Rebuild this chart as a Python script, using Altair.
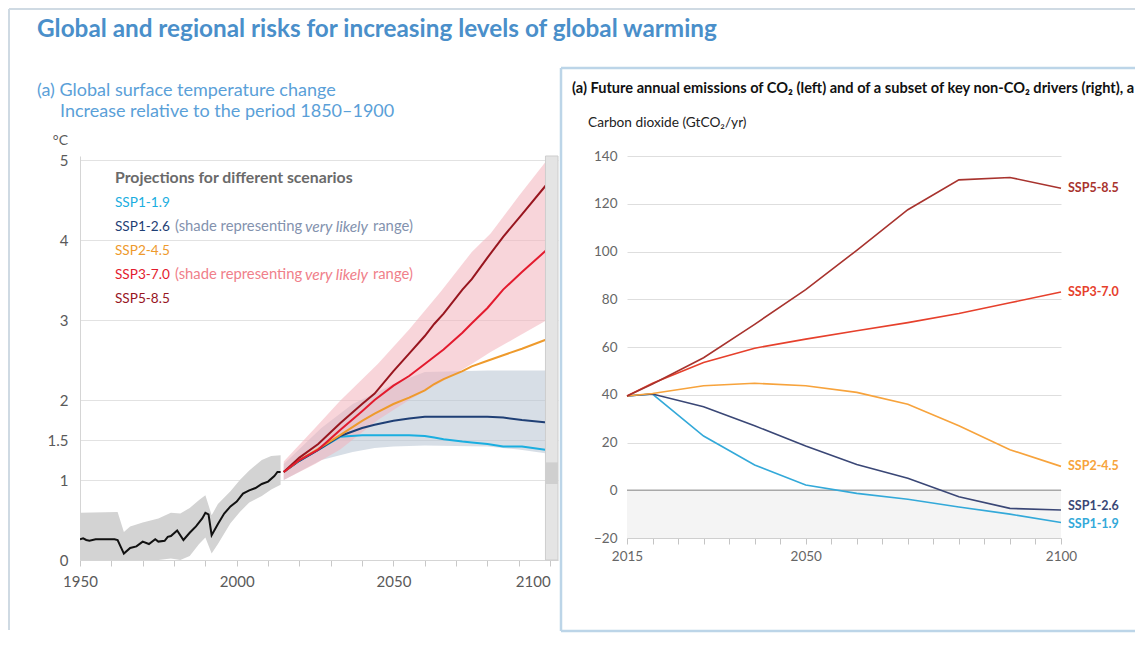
import altair as alt
import pandas as pd

FONT = "Lato"

# ---------------- left panel: global surface temperature change ----------------
hist_years = [1950, 1951, 1952, 1953, 1955, 1961, 1962, 1964, 1966, 1968, 1970, 1972, 1974, 1975,
              1977, 1978, 1979, 1981, 1983, 1985, 1987, 1989, 1990, 1991, 1992, 1994, 1996, 1998,
              2000, 2002, 2004, 2006, 2008, 2010, 2012, 2013, 2014]
hist_temp = [0.26, 0.27, 0.25, 0.24, 0.26, 0.26, 0.25, 0.08, 0.15, 0.17, 0.23, 0.20, 0.26, 0.23,
             0.24, 0.29, 0.30, 0.37, 0.25, 0.34, 0.42, 0.52, 0.59, 0.57, 0.31, 0.45, 0.58, 0.67,
             0.73, 0.83, 0.87, 0.90, 0.95, 0.98, 1.05, 1.10, 1.10]

hband_years = [1950, 1962, 1964, 1966, 1970, 1975, 1979, 1982, 1985, 1988, 1990, 1992, 1994,
               1998, 2001, 2004, 2008, 2011, 2014]
hband_lo = [0.0, 0.0, 0.0, 0.0, 0.0, 0.0, 0.02, 0.0, 0.05, 0.20, 0.28, 0.08, 0.20, 0.46, 0.60,
            0.72, 0.80, 0.88, 0.94]
hband_hi = [0.59, 0.60, 0.35, 0.42, 0.47, 0.52, 0.59, 0.58, 0.65, 0.75, 0.81, 0.56, 0.70, 0.86,
            1.00, 1.12, 1.25, 1.30, 1.31]

proj_years = [2015, 2020, 2026, 2033, 2040, 2044, 2050, 2055, 2060, 2063, 2066, 2072, 2075,
              2080, 2085, 2091, 2099]
ssp119_t = [1.10, 1.24, 1.375, 1.54, 1.56, 1.56, 1.56, 1.56, 1.55, 1.53, 1.51, 1.48, 1.47, 1.45,
            1.42, 1.42, 1.375]
ssp126_t = [1.10, 1.24, 1.375, 1.55, 1.65, 1.69, 1.74, 1.77, 1.79, 1.79, 1.79, 1.79, 1.79, 1.79,
            1.78, 1.75, 1.72]
ssp245_t = [1.10, 1.25, 1.39, 1.56, 1.74, 1.83, 1.95, 2.03, 2.12, 2.20, 2.26, 2.36, 2.42, 2.49,
            2.56, 2.64, 2.76]
ssp370_t = [1.10, 1.25, 1.38, 1.625, 1.86, 2.00, 2.18, 2.30, 2.45, 2.54, 2.63, 2.84, 2.96, 3.15,
            3.38, 3.60, 3.88]
ssp585_t = [1.10, 1.28, 1.45, 1.71, 1.95, 2.08, 2.36, 2.58, 2.80, 2.95, 3.08, 3.38, 3.51, 3.78,
            4.04, 4.32, 4.70]

pink_years = [2015, 2025, 2033, 2045, 2055, 2065, 2075, 2081, 2090, 2099]
pink_lo = [1.00, 1.20, 1.38, 1.75, 2.00, 2.22, 2.45, 2.60, 2.80, 3.00]
pink_hi = [1.23, 1.65, 1.99, 2.45, 2.88, 3.35, 3.85, 4.08, 4.55, 5.00]

grey_years = [2015, 2027, 2037, 2044, 2050, 2060, 2080, 2090, 2099]
grey_lo = [1.00, 1.25, 1.35, 1.40, 1.42, 1.43, 1.42, 1.38, 1.33]
grey_hi = [1.20, 1.65, 1.95, 2.08, 2.20, 2.35, 2.37, 2.37, 2.37]

scen_names = ["SSP1-1.9", "SSP1-2.6", "SSP2-4.5", "SSP3-7.0", "SSP5-8.5"]
left_colors = ["#1aaee0", "#1f3f75", "#ee9a2c", "#e31b2e", "#98161f"]
left_temps = [ssp119_t, ssp126_t, ssp245_t, ssp370_t, ssp585_t]
left_draw_order = ["SSP1-1.9", "SSP1-2.6", "SSP2-4.5", "SSP5-8.5", "SSP3-7.0"]

temp_ticks = [0, 1, 1.5, 2, 3, 4, 5]

# ---------------- right panel: CO2 emissions ----------------
co2_years = [2015, 2020, 2030, 2040, 2050, 2060, 2070, 2080, 2090, 2100]
co2_ssp119 = [39.5, 40.3, 22.7, 10.6, 2.2, -1.3, -3.8, -7.0, -10.0, -13.5]
co2_ssp126 = [39.5, 40.3, 35.0, 27.0, 18.5, 10.8, 5.0, -2.7, -7.6, -8.3]
co2_ssp245 = [39.5, 40.5, 43.8, 44.8, 43.8, 41.0, 36.0, 27.0, 17.0, 10.0]
co2_ssp370 = [39.5, 44.8, 53.5, 59.5, 63.3, 66.8, 70.2, 74.0, 78.5, 83.0]
co2_ssp585 = [39.5, 44.5, 55.5, 69.5, 84.0, 100.5, 117.5, 130.0, 131.0, 126.5]
right_colors = ["#33a9d9", "#3a4776", "#f7a33c", "#e6402c", "#a8332e"]
right_series = [co2_ssp119, co2_ssp126, co2_ssp245, co2_ssp370, co2_ssp585]
label_nudge = {"SSP1-2.6": -4, "SSP1-1.9": 2}

# texts
main_title = "Global and regional risks for increasing levels of global warming"
left_title = ["(a) Global surface temperature change", "Increase relative to the period 1850\u20131900"]
legend_head = "Projections for different scenarios"
legend_note = ["(shade representing", "very likely", "range)"]
right_title = "(a) Future annual emissions of CO\u2082 (left) and of a subset of key non-CO\u2082 drivers (right), a"
right_ytitle = "Carbon dioxide (GtCO\u2082/yr)"

one = pd.DataFrame({"k": [0]})


def txt(s, x, y, size, color, weight="normal", style="normal", align="left", **kw):
    return alt.Chart(pd.DataFrame({"t": [s]})).mark_text(
        align=align, baseline="middle", font=FONT, fontSize=size, color=color,
        fontWeight=weight, fontStyle=style, **kw
    ).encode(x=alt.value(x), y=alt.value(y), text="t:N")


def rule(color, width, **enc):
    return alt.Chart(one).mark_rule(color=color, strokeWidth=width).encode(
        **{k: alt.value(v) for k, v in enc.items()})


# ---- left chart encodings ----
xl_scale = alt.Scale(domain=[1950, 2102.5], nice=False, zero=False)
yl_scale = alt.Scale(domain=[0, 5.05], nice=False, zero=False)
xl_axis = alt.Axis(
    values=list(range(1950, 2101, 10)), format="d",
    labelExpr="datum.value % 50 == 0 ? datum.label : ''",
    labelAlign={"condition": {"test": "datum.value == 2100", "value": "right"}, "value": "center"},
    tickSize=6, tickColor="#c8c8c8", domainColor="#d5d5d5", grid=False, labelFlush=False,
    labelFont=FONT, labelFontSize=15, labelColor="#5a5a5a", labelPadding=8, title=None)
yl_axis = alt.Axis(
    values=temp_ticks, format=".1~f", grid=True, gridColor="#e2e2e2", domain=True,
    domainColor="#d5d5d5", ticks=False, labelPadding=12, labelFont=FONT, labelFontSize=15,
    labelColor="#5a5a5a", title=None)


def XL(f="year"):
    return alt.X(f"{f}:Q", scale=xl_scale, axis=xl_axis, title=None)


def YL(f):
    return alt.Y(f"{f}:Q", scale=yl_scale, axis=yl_axis, title=None)


hist_df = pd.DataFrame({"year": hist_years, "temp": hist_temp})
hband_df = pd.DataFrame({"year": hband_years, "lo": hband_lo, "hi": hband_hi})
pink_df = pd.DataFrame({"year": pink_years, "lo": pink_lo, "hi": pink_hi})
grey_df = pd.DataFrame({"year": grey_years, "lo": grey_lo, "hi": grey_hi})
strip_df = pd.DataFrame({"x1": [2098.5], "x2": [2102.5], "y1": [0.0], "y2": [5.05]})
strip_mark_df = pd.DataFrame({"x1": [2098.5], "x2": [2102.5], "y1": [0.95], "y2": [1.22]})

layers_left = []
layers_left.append(rule("#cfdae3", 2, x=-71, x2=1055, y=-147))
layers_left.append(rule("#cfdae3", 2, x=-71, y=-147, y2=474))
layers_left.append(alt.Chart(hband_df).mark_area(color="#d3d3d3", clip=True).encode(
    x=XL(), y=YL("lo"), y2="hi:Q"))
layers_left.append(alt.Chart(grey_df).mark_area(color="#b7c2d2", opacity=0.55, clip=True).encode(
    x=XL(), y=YL("lo"), y2="hi:Q"))
layers_left.append(alt.Chart(pink_df).mark_area(color="#f2b3bc", opacity=0.55, clip=True).encode(
    x=XL(), y=YL("lo"), y2="hi:Q"))
layers_left.append(alt.Chart(hist_df).mark_line(color="#111111", strokeWidth=2, clip=True).encode(
    x=XL(), y=YL("temp")))
for name in left_draw_order:
    i = scen_names.index(name)
    df = pd.DataFrame({"year": proj_years, "temp": left_temps[i]})
    layers_left.append(alt.Chart(df).mark_line(color=left_colors[i], strokeWidth=2, clip=True).encode(
        x=XL(), y=YL("temp")))
layers_left.append(alt.Chart(strip_df).mark_rect(color="#e4e4e4", stroke="#cdcdcd", strokeWidth=1).encode(
    x=XL("x1"), x2="x2:Q", y=YL("y1"), y2="y2:Q"))
layers_left.append(alt.Chart(strip_mark_df).mark_rect(color="#cfcfcf").encode(
    x=XL("x1"), x2="x2:Q", y=YL("y1"), y2="y2:Q"))

# titles and legend
layers_left.append(txt(main_title, -43, -126, 24.3, "#4a8fca", weight="bold"))
layers_left.append(txt(left_title[0], -43, -65, 18, "#5aa0d8"))
layers_left.append(txt(left_title[1], -20, -44, 18, "#5aa0d8"))
layers_left.append(txt("\u00b0C", -12, -15, 14, "#5a5a5a", align="right"))
layers_left.append(txt(legend_head, 35, 22, 15.8, "#6a6a6a", weight="bold"))
leg_y = [47, 71, 95, 119, 143]
note_colors = {"SSP1-2.6": "#8392ae", "SSP3-7.0": "#f0808a"}
for i, name in enumerate(scen_names):
    layers_left.append(txt(name, 35, leg_y[i], 13.6, left_colors[i]))
    if name in note_colors:
        c = note_colors[name]
        layers_left.append(txt(legend_note[0], 95, leg_y[i], 14.8, c))
        layers_left.append(txt(legend_note[1], 225, leg_y[i], 15.5, c, style="italic"))
        layers_left.append(txt(legend_note[2], 293, leg_y[i], 14.8, c))

left = alt.layer(*layers_left).properties(width=478, height=404)

# ---- right chart ----
xr_scale = alt.Scale(domain=[2015, 2100], nice=False, zero=False)
yr_scale = alt.Scale(domain=[-20, 140], nice=False, zero=False)
xr_axis = alt.Axis(
    values=list(range(2015, 2101, 5)), format="d",
    labelExpr="(datum.value == 2015 || datum.value == 2050 || datum.value == 2100) ? datum.label : ''",
    tickSize=6, tickColor="#c4c4c4", domainColor="#cfcfcf", grid=False, labelFlush=False,
    labelFont=FONT, labelFontSize=13.5, labelColor="#666666", labelPadding=5, title=None)
yr_axis = alt.Axis(
    values=list(range(-20, 141, 20)), grid=True, gridColor="#dedede", domain=False, ticks=False,
    labelPadding=10, labelFont=FONT, labelFontSize=13.5, labelColor="#666666", title=None)


def XR(f="year"):
    return alt.X(f"{f}:Q", scale=xr_scale, axis=xr_axis, title=None)


def YR(f):
    return alt.Y(f"{f}:Q", scale=yr_scale, axis=yr_axis, title=None)


neg_df = pd.DataFrame({"x1": [2015], "x2": [2100], "y1": [-20], "y2": [0]})
zero_df = pd.DataFrame({"v": [0]})

layers_right = []
layers_right.append(rule("#bcd5e8", 2.5, x=-66, x2=508, y=-88))
layers_right.append(rule("#bcd5e8", 2.5, x=-66, y=-88, y2=475))
layers_right.append(rule("#bcd5e8", 2.5, x=-66, x2=508, y=475))
layers_right.append(alt.Chart(neg_df).mark_rect(color="#f4f4f4").encode(
    x=XR("x1"), x2="x2:Q", y=YR("y1"), y2="y2:Q"))
layers_right.append(alt.Chart(zero_df).mark_rule(color="#a8a8a8", strokeWidth=1.3).encode(y=YR("v")))
for i, name in enumerate(scen_names):
    df = pd.DataFrame({"year": co2_years, "value": right_series[i]})
    layers_right.append(alt.Chart(df).mark_line(color=right_colors[i], strokeWidth=1.6).encode(
        x=XR(), y=YR("value")))
    end = pd.DataFrame({"year": [co2_years[-1]], "value": [right_series[i][-1]], "name": [name]})
    layers_right.append(alt.Chart(end).mark_text(
        align="left", baseline="middle", dx=7, dy=label_nudge.get(name, 0), font=FONT,
        fontSize=12.5, fontWeight="bold", color=right_colors[i]).encode(
        x=XR(), y=YR("value"), text="name:N"))
layers_right.append(txt(right_title, -55, -67, 14.6, "#111111", weight="bold",
                        limit=565, ellipsis="\u200b"))
layers_right.append(txt(right_ytitle, -39, -33, 13.7, "#222222"))

right = alt.layer(*layers_right).properties(width=434, height=382)

chart = alt.hconcat(left, right, spacing=69, bounds="flush").properties(
    padding=0, background="white"
).configure_view(stroke=None)

chart.save("out.html", embed_options={"renderer": "svg", "actions": False})
